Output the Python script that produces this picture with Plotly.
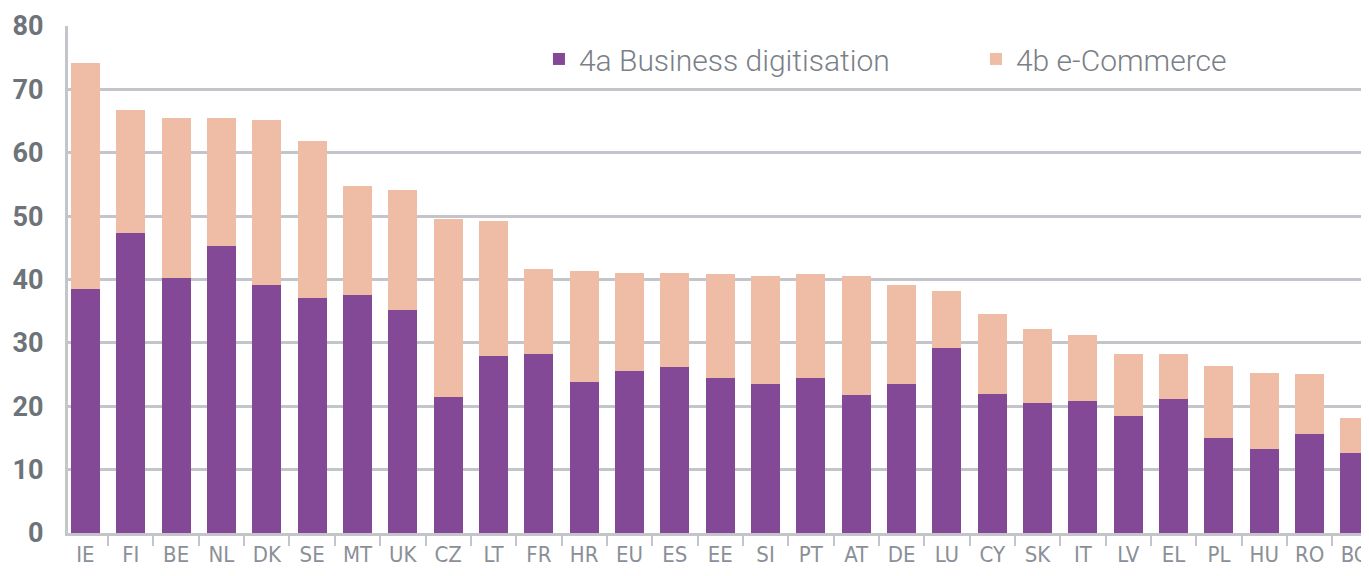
import plotly.graph_objects as go

countries = ["IE", "FI", "BE", "NL", "DK", "SE", "MT", "UK", "CZ", "LT", "FR", "HR", "EU", "ES",
             "EE", "SI", "PT", "AT", "DE", "LU", "CY", "SK", "IT", "LV", "EL", "PL", "HU", "RO", "BG"]
business_digitisation = [38.5, 47.4, 40.3, 45.3, 39.1, 37.1, 37.5, 35.2, 21.5, 28.0, 28.3, 23.8, 25.5, 26.2,
                         24.5, 23.5, 24.4, 21.7, 23.5, 29.2, 21.9, 20.5, 20.8, 18.4, 21.1, 15.0, 13.2, 15.6, 12.6]
e_commerce = [35.6, 19.3, 25.2, 20.2, 26.1, 24.8, 17.3, 19.0, 28.0, 21.2, 13.4, 17.6, 15.6, 14.9,
              16.3, 17.0, 16.4, 18.8, 15.6, 9.0, 12.6, 11.7, 10.4, 9.8, 7.1, 11.3, 12.0, 9.5, 5.5]
y_ticks = [0, 10, 20, 30, 40, 50, 60, 70, 80]

PURPLE = "#834996"
PINK = "#efbca6"
GRID = "#c3c5cb"

fig = go.Figure()
fig.add_trace(go.Bar(x=countries, y=business_digitisation, name="4a Business digitisation",
                     marker=dict(color=PURPLE, line=dict(width=0)), width=0.64))
fig.add_trace(go.Bar(x=countries, y=e_commerce, name="4b e-Commerce",
                     marker=dict(color=PINK, line=dict(width=0)), width=0.64))

# page body has an 8px margin, so the figure is sized/offset to compensate
fig.update_layout(
    width=1361, height=568,
    margin=dict(l=60, r=0, t=18, b=43, autoexpand=False),
    barmode="stack",
    plot_bgcolor="white", paper_bgcolor="white",
    showlegend=True,
    legend=dict(orientation="h", x=0.362, y=0.935, xanchor="left", yanchor="middle",
                font=dict(family="Roboto", size=30, color="#7b7f87", weight=300),
                bgcolor="rgba(0,0,0,0)", itemwidth=30, traceorder="normal",
                entrywidth=392),
    xaxis=dict(
        type="category", range=[-0.385, 28.31],
        showline=True, linecolor=GRID, linewidth=3,
        ticks="outside", tickson="boundaries", ticklen=10, tickwidth=2, tickcolor=GRID,
        tickfont=dict(family="Liberation Sans Narrow, DejaVu Sans Condensed, Roboto", size=22, color="#8b8f97"),
        showgrid=False,
    ),
    yaxis=dict(
        range=[0, 80], tickvals=y_ticks,
        showline=True, linecolor=GRID, linewidth=3,
        showgrid=True, gridcolor=GRID, gridwidth=3,
        ticks="", ticklabelstandoff=16,
        tickfont=dict(family="Roboto", size=27, color="#6e7379", weight=700),
        zeroline=False,
    ),
)

fig.write_html("out.html")
